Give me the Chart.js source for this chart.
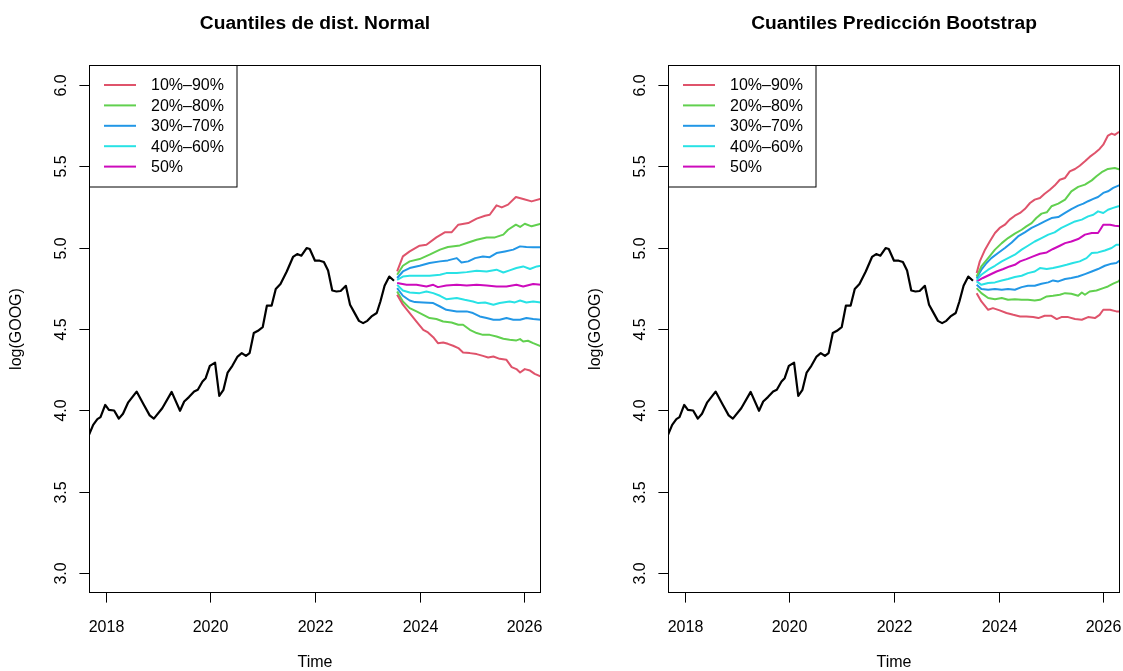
<!DOCTYPE html>
<html>
<head>
<meta charset="utf-8">
<script src="https://cdn.jsdelivr.net/npm/chart.js@4"></script>
<style>
html,body{margin:0;padding:0;background:#fff;}
#wrap{position:relative;width:1123px;height:671px;overflow:hidden;background:#fff;}
canvas{position:absolute;top:0;}
</style>
</head>
<body>
<div id="wrap">
<canvas id="c1" width="544" height="671" style="left:0px"></canvas>
<canvas id="c2" width="544" height="671" style="left:579px"></canvas>
</div>
<script>
// ---------- axis / labels ----------
const xMin = 2017.68, xMax = 2026.32, yMin = 2.88, yMax = 6.12;
const xTicks = [2018, 2020, 2022, 2024, 2026];
const yTicks = [3.0, 3.5, 4.0, 4.5, 5.0, 5.5, 6.0];
const yTickLabels = ['3.0', '3.5', '4.0', '4.5', '5.0', '5.5', '6.0'];
const titles = ['Cuantiles de dist. Normal', 'Cuantiles Predicción Bootstrap'];
const xTitle = 'Time';
const yTitle = 'log(GOOG)';
const legendLabels = ['10%\u201390%', '20%\u201380%', '30%\u201370%', '40%\u201360%', '50%'];
const bandColors = ['#DF536B', '#61D04F', '#2297E6', '#28E2E5', '#CD0BBC'];

// ---------- observed series ----------
const histT = [2017.68,2017.76,2017.84,2017.90,2017.99,2018.06,2018.16,2018.25,2018.33,2018.43,2018.59,2018.73,2018.84,2018.92,2019.08,2019.26,2019.42,2019.50,2019.59,2019.69,2019.76,2019.85,2019.91,2019.99,2020.09,2020.17,2020.25,2020.33,2020.42,2020.52,2020.60,2020.68,2020.75,2020.83,2020.91,2021.00,2021.08,2021.17,2021.25,2021.34,2021.46,2021.58,2021.66,2021.74,2021.84,2021.90,2022.00,2022.09,2022.17,2022.25,2022.33,2022.41,2022.49,2022.59,2022.67,2022.74,2022.84,2022.92,2023.00,2023.08,2023.18,2023.25,2023.33,2023.42,2023.51];
const histV = [3.850,3.912,3.947,3.959,4.034,4.004,4.000,3.950,3.980,4.050,4.116,4.034,3.970,3.950,4.014,4.114,3.998,4.055,4.082,4.116,4.127,4.178,4.198,4.274,4.294,4.090,4.127,4.233,4.274,4.331,4.352,4.335,4.352,4.475,4.489,4.511,4.643,4.643,4.745,4.776,4.853,4.942,4.960,4.950,4.997,4.991,4.919,4.919,4.911,4.859,4.736,4.730,4.733,4.765,4.649,4.608,4.550,4.536,4.550,4.577,4.598,4.669,4.765,4.822,4.796];

// ---------- Normal quantiles (left) ----------
const nQ90t = [2023.57,2023.68,2023.81,2024.00,2024.13,2024.32,2024.48,2024.61,2024.74,2024.93,2025.09,2025.25,2025.34,2025.47,2025.57,2025.69,2025.84,2025.98,2026.14,2026.32];
const nQ90v = [4.853,4.946,4.976,5.011,5.017,5.062,5.093,5.093,5.140,5.150,5.177,5.195,5.201,5.259,5.246,5.263,5.310,5.298,5.283,5.300];
const nQ80t = [2023.57,2023.68,2023.81,2024.00,2024.19,2024.39,2024.54,2024.77,2024.93,2025.09,2025.28,2025.44,2025.60,2025.69,2025.84,2025.92,2026.01,2026.14,2026.32];
const nQ80v = [4.833,4.888,4.915,4.929,4.956,4.987,5.003,5.013,5.031,5.048,5.062,5.062,5.079,5.109,5.140,5.126,5.146,5.130,5.146];
const nQ70t = [2023.57,2023.68,2023.81,2024.00,2024.19,2024.39,2024.54,2024.71,2024.80,2024.93,2025.06,2025.21,2025.34,2025.47,2025.63,2025.79,2025.92,2026.04,2026.17,2026.32];
const nQ70v = [4.813,4.853,4.874,4.888,4.905,4.915,4.921,4.935,4.908,4.915,4.935,4.945,4.941,4.966,4.976,4.987,5.007,5.003,5.001,5.001];
const nQ60t = [2023.57,2023.68,2023.81,2024.00,2024.19,2024.39,2024.51,2024.71,2024.90,2025.09,2025.28,2025.47,2025.60,2025.72,2025.85,2025.98,2026.11,2026.24,2026.32];
const nQ60v = [4.802,4.822,4.827,4.827,4.827,4.833,4.843,4.843,4.849,4.857,4.853,4.864,4.847,4.860,4.874,4.884,4.868,4.884,4.888];
const nQ50t = [2023.57,2023.75,2023.94,2024.13,2024.26,2024.35,2024.51,2024.71,2024.90,2025.09,2025.28,2025.47,2025.66,2025.85,2025.98,2026.17,2026.32];
const nQ50v = [4.782,4.771,4.771,4.761,4.771,4.757,4.767,4.771,4.767,4.771,4.767,4.761,4.761,4.771,4.761,4.776,4.771];
const nQ40t = [2023.57,2023.68,2023.81,2024.00,2024.13,2024.26,2024.39,2024.51,2024.71,2024.86,2025.02,2025.12,2025.25,2025.41,2025.53,2025.72,2025.82,2025.92,2026.04,2026.17,2026.32];
const nQ40v = [4.771,4.736,4.724,4.720,4.730,4.720,4.704,4.683,4.690,4.679,4.669,4.659,4.663,4.649,4.659,4.669,4.663,4.675,4.663,4.669,4.663];
const nQ30t = [2023.57,2023.68,2023.81,2023.91,2024.07,2024.26,2024.39,2024.51,2024.71,2024.90,2025.02,2025.15,2025.28,2025.41,2025.53,2025.66,2025.79,2025.92,2026.04,2026.17,2026.32];
const nQ30v = [4.751,4.704,4.675,4.665,4.663,4.659,4.638,4.618,4.608,4.608,4.598,4.577,4.567,4.557,4.557,4.567,4.557,4.557,4.567,4.561,4.557];
const nQ20t = [2023.57,2023.68,2023.81,2023.94,2024.07,2024.19,2024.32,2024.45,2024.61,2024.74,2024.83,2024.96,2025.09,2025.21,2025.34,2025.47,2025.60,2025.72,2025.85,2025.92,2025.98,2026.07,2026.17,2026.32];
const nQ20v = [4.730,4.669,4.628,4.608,4.587,4.567,4.561,4.546,4.540,4.526,4.526,4.495,4.475,4.464,4.464,4.454,4.440,4.434,4.430,4.438,4.423,4.428,4.413,4.393];
const nQ10t = [2023.57,2023.68,2023.81,2023.94,2024.07,2024.16,2024.26,2024.35,2024.45,2024.54,2024.64,2024.74,2024.83,2024.96,2025.09,2025.21,2025.31,2025.41,2025.53,2025.66,2025.76,2025.85,2025.92,2026.01,2026.11,2026.20,2026.32];
const nQ10v = [4.710,4.649,4.598,4.546,4.495,4.479,4.450,4.413,4.417,4.409,4.397,4.383,4.356,4.352,4.346,4.335,4.325,4.331,4.317,4.311,4.266,4.254,4.233,4.254,4.245,4.225,4.208];

// ---------- Bootstrap quantiles (right) ----------
const bQ90t = [2023.58,2023.64,2023.74,2023.83,2023.93,2024.02,2024.12,2024.21,2024.31,2024.41,2024.50,2024.60,2024.69,2024.79,2024.88,2024.98,2025.07,2025.17,2025.27,2025.36,2025.46,2025.55,2025.65,2025.74,2025.84,2025.93,2026.00,2026.09,2026.16,2026.22,2026.29,2026.32];
const bQ90v = [4.843,4.915,4.987,5.037,5.089,5.120,5.140,5.171,5.195,5.212,5.236,5.273,5.294,5.304,5.330,5.355,5.380,5.416,5.427,5.467,5.482,5.502,5.529,5.556,5.580,5.605,5.631,5.687,5.699,5.691,5.707,5.707];
const bQ80t = [2023.58,2023.67,2023.80,2023.93,2024.06,2024.18,2024.31,2024.44,2024.53,2024.63,2024.72,2024.82,2024.92,2025.01,2025.14,2025.27,2025.39,2025.52,2025.65,2025.78,2025.87,2025.97,2026.09,2026.22,2026.32];
const bQ80v = [4.822,4.884,4.935,4.987,5.027,5.058,5.085,5.109,5.130,5.150,5.181,5.208,5.216,5.253,5.269,5.294,5.345,5.372,5.386,5.412,5.437,5.462,5.482,5.488,5.478];
const bQ70t = [2023.58,2023.67,2023.77,2023.86,2023.99,2024.12,2024.25,2024.37,2024.50,2024.63,2024.76,2024.88,2025.01,2025.14,2025.27,2025.39,2025.52,2025.62,2025.71,2025.81,2025.90,2026.00,2026.09,2026.19,2026.29,2026.32];
const bQ70v = [4.813,4.864,4.905,4.935,4.966,4.997,5.031,5.068,5.093,5.120,5.140,5.160,5.181,5.187,5.212,5.236,5.257,5.269,5.284,5.298,5.310,5.335,5.345,5.366,5.380,5.380];
const bQ60t = [2023.58,2023.67,2023.80,2023.93,2024.06,2024.18,2024.31,2024.44,2024.56,2024.69,2024.82,2024.95,2025.07,2025.20,2025.33,2025.46,2025.59,2025.71,2025.81,2025.90,2026.00,2026.09,2026.19,2026.29,2026.32];
const bQ60v = [4.802,4.833,4.864,4.888,4.915,4.935,4.956,4.987,5.011,5.037,5.058,5.079,5.093,5.120,5.140,5.160,5.171,5.191,5.201,5.222,5.212,5.232,5.243,5.253,5.253];
const bQ50t = [2023.58,2023.70,2023.83,2023.96,2024.09,2024.21,2024.31,2024.41,2024.53,2024.66,2024.79,2024.92,2025.04,2025.17,2025.27,2025.39,2025.52,2025.65,2025.78,2025.90,2025.95,2026.00,2026.13,2026.22,2026.32];
const bQ50v = [4.792,4.813,4.833,4.853,4.868,4.884,4.894,4.915,4.929,4.946,4.962,4.970,4.991,5.011,5.027,5.037,5.052,5.079,5.089,5.089,5.114,5.140,5.140,5.134,5.130];
const bQ40t = [2023.58,2023.67,2023.80,2023.93,2024.06,2024.18,2024.31,2024.44,2024.56,2024.69,2024.79,2024.92,2025.04,2025.17,2025.30,2025.42,2025.55,2025.68,2025.78,2025.90,2026.03,2026.16,2026.25,2026.32];
const bQ40v = [4.792,4.771,4.782,4.786,4.798,4.807,4.819,4.827,4.843,4.853,4.874,4.868,4.874,4.884,4.894,4.905,4.915,4.935,4.966,4.970,4.982,4.997,5.017,5.017];
const bQ30t = [2023.58,2023.67,2023.80,2023.93,2024.06,2024.18,2024.31,2024.44,2024.56,2024.69,2024.82,2024.95,2025.04,2025.14,2025.27,2025.39,2025.52,2025.65,2025.78,2025.90,2026.03,2026.16,2026.25,2026.32];
const bQ30v = [4.771,4.745,4.741,4.745,4.741,4.745,4.741,4.757,4.765,4.765,4.778,4.786,4.798,4.792,4.807,4.813,4.822,4.837,4.853,4.868,4.888,4.901,4.905,4.921];
const bQ20t = [2023.58,2023.67,2023.80,2023.93,2024.06,2024.18,2024.31,2024.44,2024.56,2024.69,2024.79,2024.92,2025.04,2025.17,2025.27,2025.39,2025.52,2025.59,2025.65,2025.74,2025.87,2026.00,2026.09,2026.19,2026.29,2026.32];
const bQ20v = [4.751,4.720,4.690,4.683,4.690,4.679,4.683,4.679,4.679,4.675,4.679,4.700,4.704,4.710,4.720,4.716,4.704,4.724,4.710,4.730,4.736,4.751,4.761,4.778,4.792,4.802];
const bQ10t = [2023.58,2023.67,2023.80,2023.89,2024.02,2024.15,2024.28,2024.41,2024.53,2024.66,2024.76,2024.88,2025.01,2025.11,2025.20,2025.33,2025.46,2025.59,2025.71,2025.84,2025.93,2026.00,2026.13,2026.25,2026.32];
const bQ10v = [4.720,4.669,4.618,4.628,4.614,4.598,4.587,4.577,4.577,4.573,4.567,4.581,4.581,4.561,4.573,4.573,4.561,4.557,4.573,4.567,4.587,4.618,4.618,4.608,4.608];

// ---------- helpers ----------
const FONT = "'Liberation Sans', Arial, Helvetica, sans-serif";
function pts(t, v) { return t.map((x, i) => ({ x: x, y: v[i] })); }
function lineDs(t, v, color, width) {
  return { data: pts(t, v), borderColor: color, borderWidth: width, pointRadius: 0,
           tension: 0, fill: false, clip: 0, borderJoinStyle: 'round', borderCapStyle: 'butt' };
}

const decorPlugin = {
  id: 'decor',
  afterDraw(chart, args, opts) {
    const ctx = chart.ctx, a = chart.chartArea;
    const xs = chart.scales.x, ys = chart.scales.y;
    ctx.save();
    ctx.strokeStyle = '#000'; ctx.fillStyle = '#000'; ctx.lineWidth = 1;
    // box
    ctx.strokeRect(a.left + 0.5, a.top + 0.5, a.right - a.left - 1, a.bottom - a.top - 1);
    // x ticks
    ctx.font = '16px ' + FONT;
    ctx.textAlign = 'center'; ctx.textBaseline = 'middle';
    xTicks.forEach(v => {
      const px = Math.round(xs.getPixelForValue(v)) + 0.5;
      ctx.beginPath(); ctx.moveTo(px, a.bottom); ctx.lineTo(px, a.bottom + 9.6); ctx.stroke();
      ctx.fillText(String(v), px, a.bottom + 35);
    });
    // y ticks
    yTicks.forEach((v, i) => {
      const py = Math.round(ys.getPixelForValue(v)) + 0.5;
      ctx.beginPath(); ctx.moveTo(a.left, py); ctx.lineTo(a.left - 9.6, py); ctx.stroke();
      ctx.save(); ctx.translate(a.left - 27, py); ctx.rotate(-Math.PI / 2);
      ctx.fillText(yTickLabels[i], 0, 0); ctx.restore();
    });
    // axis titles
    const cx = (a.left + a.right) / 2;
    ctx.fillText(xTitle, cx, 663);
    ctx.save(); ctx.translate(17, (a.top + a.bottom) / 2); ctx.rotate(-Math.PI / 2);
    ctx.fillText(yTitle, 0, 0); ctx.restore();
    // main title
    ctx.font = 'bold 19.2px ' + FONT;
    ctx.fillText(opts.title, cx, 24);
    // legend
    const lx = a.left, ly = a.top, lw = 147.5, lh = 121.5;
    ctx.fillStyle = '#fff'; ctx.fillRect(lx, ly, lw, lh);
    ctx.strokeStyle = '#000'; ctx.lineWidth = 1;
    ctx.strokeRect(lx + 0.5, ly + 0.5, lw, lh);
    ctx.font = '16px ' + FONT; ctx.textAlign = 'left';
    legendLabels.forEach((lab, i) => {
      const yy = ly + 20 + i * 20.4;
      ctx.strokeStyle = bandColors[i]; ctx.lineWidth = 2;
      ctx.beginPath(); ctx.moveTo(lx + 15, yy); ctx.lineTo(lx + 47, yy); ctx.stroke();
      ctx.fillStyle = '#000'; ctx.fillText(lab, lx + 62, yy + 1);
    });
    ctx.restore();
  }
};

function makeChart(id, title, q) {
  const ds = [
    lineDs(q[0][0], q[0][1], bandColors[0], 2),
    lineDs(q[8][0], q[8][1], bandColors[0], 2),
    lineDs(q[1][0], q[1][1], bandColors[1], 2),
    lineDs(q[7][0], q[7][1], bandColors[1], 2),
    lineDs(q[2][0], q[2][1], bandColors[2], 2),
    lineDs(q[6][0], q[6][1], bandColors[2], 2),
    lineDs(q[3][0], q[3][1], bandColors[3], 2),
    lineDs(q[5][0], q[5][1], bandColors[3], 2),
    lineDs(q[4][0], q[4][1], bandColors[4], 2),
    lineDs(histT, histV, '#000', 2.2)
  ];
  return new Chart(document.getElementById(id), {
    type: 'line',
    data: { datasets: ds },
    options: {
      responsive: false, animation: false, devicePixelRatio: 1,
      layout: { padding: { left: 89, right: 3, top: 65, bottom: 78 } },
      plugins: { legend: { display: false }, tooltip: { enabled: false }, title: { display: false },
                 decor: { title: title } },
      scales: {
        x: { type: 'linear', min: xMin, max: xMax, display: false },
        y: { type: 'linear', min: yMin, max: yMax, display: false }
      }
    },
    plugins: [decorPlugin]
  });
}

makeChart('c1', titles[0], [[nQ90t,nQ90v],[nQ80t,nQ80v],[nQ70t,nQ70v],[nQ60t,nQ60v],[nQ50t,nQ50v],[nQ40t,nQ40v],[nQ30t,nQ30v],[nQ20t,nQ20v],[nQ10t,nQ10v]]);
makeChart('c2', titles[1], [[bQ90t,bQ90v],[bQ80t,bQ80v],[bQ70t,bQ70v],[bQ60t,bQ60v],[bQ50t,bQ50v],[bQ40t,bQ40v],[bQ30t,bQ30v],[bQ20t,bQ20v],[bQ10t,bQ10v]]);
</script>
</body>
</html>
